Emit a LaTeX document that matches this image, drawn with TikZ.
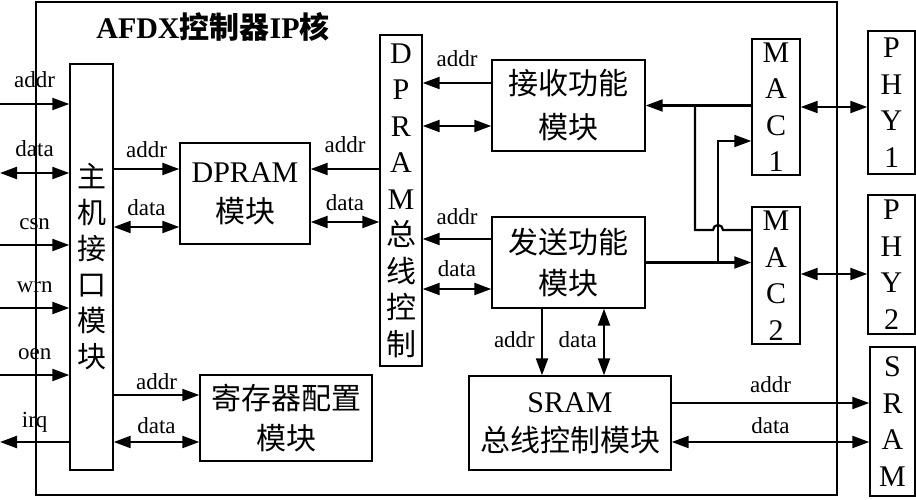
\documentclass[tikz,border=0pt]{standalone}
\usepackage{fontspec}
\setmainfont{Liberation Serif}
\newfontfamily\zh{Noto Sans CJK SC}
\usepackage{tikz}
\usetikzlibrary{arrows.meta}

\begin{document}
\begin{tikzpicture}[x=1pt, y=-1pt,
    box/.style={draw, line width=1.4pt, inner sep=0pt},
    zhtext/.style={align=center, font=\zh\fontsize{30}{41}\selectfont},
    vtext/.style={align=center, font=\fontsize{30}{36.5}\selectfont},
    lbl/.style={font=\fontsize{23}{25}\selectfont, inner sep=0pt, anchor=base},
    wire/.style={line width=2.2pt},
    arr/.style={wire, -{Triangle[length=17pt,width=12pt]}},
    barr/.style={wire, {Triangle[length=17pt,width=12pt]}-{Triangle[length=17pt,width=12pt]}}]
    \useasboundingbox (0,0) rectangle (916,500);

    % IP core frame and title
    \node[box, line width=1.3pt, minimum width=801pt, minimum height=493pt] (ip) at (436.5,248.5) {};
    \node[font=\bfseries\fontsize{30}{36}\selectfont] (title) at (213,27) {AFDX{\zh 控制器}IP{\zh 核}};

    % Blocks
    \node[box, minimum width=43pt, minimum height=406pt, zhtext, font=\zh\fontsize{29}{36}\selectfont] (host) at (91.5,267) {主\\机\\接\\口\\模\\块};
    \node[box, minimum width=130pt, minimum height=101pt, vtext, font=\fontsize{30}{40}\selectfont] (dpram) at (245,193.5) {DPRAM\\{\zh 模块}};
    \node[box, minimum width=42pt, minimum height=331pt, vtext] (dbus) at (401,200.5) {D\\P\\R\\A\\M\\{\zh 总}\\{\zh 线}\\{\zh 控}\\{\zh 制}};
    \node[box, minimum width=172pt, minimum height=86pt, zhtext, font=\zh\fontsize{30}{40}\selectfont] (reg) at (286,418) {寄存器配置\\模块};
    \node[box, minimum width=153pt, minimum height=91pt, zhtext, font=\zh\fontsize{30}{44}\selectfont] (rx) at (568.5,105.5) {接收功能\\模块};
    \node[box, minimum width=153pt, minimum height=91pt, zhtext] (tx) at (568.5,262.5) {发送功能\\模块};
    \node[box, minimum width=202pt, minimum height=94pt, vtext, font=\fontsize{30}{39}\selectfont] (sctl) at (570,423) {SRAM\\{\zh 总线控制模块}};
    \node[box, minimum width=48pt, minimum height=136pt, vtext] (mac1) at (776,107) {M\\A\\C\\1};
    \node[box, minimum width=48pt, minimum height=137pt, vtext] (mac2) at (776,275.5) {M\\A\\C\\2};
    \node[box, minimum width=47pt, minimum height=143pt, vtext] (phy1) at (891.5,102.5) {P\\H\\Y\\1};
    \node[box, minimum width=47pt, minimum height=139pt, vtext] (phy2) at (891.5,264.5) {P\\H\\Y\\2};
    \node[box, minimum width=45pt, minimum height=149pt, vtext] (sram) at (892.5,421.5) {S\\R\\A\\M};

    % Host signals
    \foreach \y/\name in {104/addr,245/csn,308/wrn,375/oen}{
        \coordinate (s-\name) at (0,\y);
        \draw[arr] (s-\name) -- node[lbl, yshift=16pt] (l-\name) {\name} (s-\name -| host.west);
    }
    \coordinate (s-data) at (0,173);
    \draw[barr] (s-data) -- node[lbl, yshift=16pt] (l-data) {data} (s-data -| host.west);
    \coordinate (s-irq) at (0,442);
    \draw[arr] (s-irq -| host.west) -- node[lbl, yshift=15pt] (l-irq) {irq} (s-irq);

    % Host to DPRAM and registers
    \draw[arr] (host.east |- 0,169) -- node[lbl, yshift=11pt] (la1) {addr} (dpram.west |- 0,169);
    \draw[barr] (host.east |- 0,227) -- node[lbl, yshift=12pt] (ld1) {data} (dpram.west |- 0,227);
    \draw[arr] (host.east |- 0,395) -- node[lbl, yshift=6pt] (la3) {addr} (reg.west |- 0,395);
    \draw[barr] (host.east |- 0,442) -- node[lbl, yshift=9pt] (ld3) {data} (reg.west |- 0,442);

    % DPRAM bus control
    \draw[arr] (dbus.west |- 0,169) -- node[lbl, yshift=16pt] (la2) {addr} (dpram.east |- 0,169);
    \draw[barr] (dbus.west |- 0,222) -- node[lbl, yshift=12pt] (ld2) {data} (dpram.east |- 0,222);
    \draw[arr] (rx.west |- 0,83) -- node[lbl, yshift=16pt] (la4) {addr} (dbus.east |- 0,83);
    \draw[barr] (rx.west |- 0,126) -- (dbus.east |- 0,126);
    \draw[arr] (tx.west |- 0,239) -- node[lbl, yshift=15pt] (la5) {addr} (dbus.east |- 0,239);
    \draw[barr] (tx.west |- 0,289) -- node[lbl, yshift=13pt] (ld5) {data} (dbus.east |- 0,289);

    % SRAM side
    \draw[arr] (tx.south -| 542,0) -- node[lbl, anchor=base east, xshift=-6pt, yshift=-5pt] (la6) {addr} (sctl.north -| 542,0);
    \draw[barr] (tx.south -| 604,0) -- node[lbl, anchor=base east, xshift=-6pt, yshift=-5pt] (ld6) {data} (sctl.north -| 604,0);
    \draw[arr] (sctl.east |- 0,403) -- node[lbl, yshift=11pt] (la7) {addr} (sram.west |- 0,403);
    \draw[barr] (sctl.east |- 0,442) -- node[lbl, yshift=9pt] (ld7) {data} (sram.west |- 0,442);

    % MAC paths
    \coordinate (j1) at (695,105);
    \coordinate (j2) at (718,263);
    \draw[arr] (mac1.west |- rx.east) -- (rx.east);
    \draw[wire] (mac2.west |- 0,230) -- (723,230) arc[start angle=0, end angle=-180, radius=5] -- (j1 |- 0,230) -- (j1);
    \draw[arr] (tx.east) -- (tx.east -| mac2.west);
    \draw[arr] (j2) -- (j2 |- 0,141) -- (mac1.west |- 0,141);
    \draw[barr] (mac1.east) -- (mac1.east -| phy1.west);
    \draw[barr] (mac2.east |- 0,274) -- (phy2.west |- 0,274);
\end{tikzpicture}
\end{document}
